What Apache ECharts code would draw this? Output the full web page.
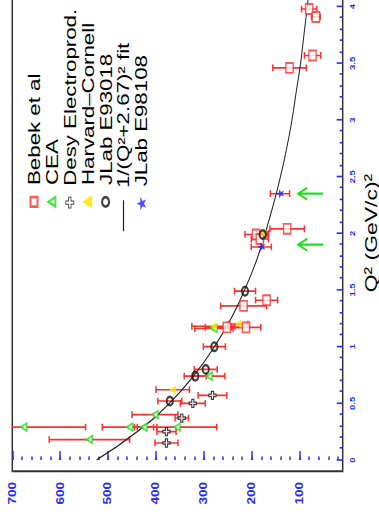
<!DOCTYPE html>
<html>
<head>
<meta charset="utf-8">
<script src="https://cdn.jsdelivr.net/npm/echarts@6/dist/echarts.min.js"></script>
<style>
  html, body { margin: 0; padding: 0; width: 379px; height: 516px; overflow: hidden; background: #fff; }
  /* The plot is laid out landscape and turned a quarter turn counter-clockwise. */
  #chart {
    position: absolute; left: 0; top: 0;
    width: 440px; height: 379px;
    transform-origin: 0 0;
    transform: translate(0, 516px) rotate(-90deg) scale(1.35, 1);
  }
</style>
</head>
<body>
<div id="chart"></div>
<script>
// Each row: [Q^2 (GeV/c)^2, value, error]
const bebek = [
  [1.17, 252, 45], [1.17, 212, 31], [1.36, 217, 48], [1.41, 169, 23],
  [1.99, 191, 23], [1.95, 183, 18], [2.04, 126, 36],
  [3.46, 121, 35], [3.57, 73, 17], [3.98, 80, 16], [3.91, 66, 9]
];
const cea = [
  [0.29, 676, 129], [0.18, 539, 84], [0.29, 455, 57], [0.29, 425, 20],
  [0.29, 356, 83], [0.40, 402, 48], [0.74, 289, 33], [1.16, 279, 40]
];
const desy = [
  [0.15, 378, 24], [0.25, 378, 20], [0.37, 346, 14], [0.50, 323, 26], [0.57, 282, 30]
];
const harvard = [
  [0.62, 365, 35], [1.18, 280, 45], [1.20, 228, 20], [2.00, 177, 12]
];
const jlab93018 = [
  [0.52, 371, 25], [0.74, 318, 23], [0.80, 296, 24], [1.00, 278, 23], [1.49, 214, 22], [1.99, 177, 12]
];
const jlab98108 = [
  [1.88, 180, 21], [2.35, 141, 20]
];
// Limit arrows: [Q^2, arrow tip value, tail value]
const limits = [
  [1.90, 103, 51], [2.35, 103, 51]
];
// Fit curve read along its length
const fitQ2  = [0, 0.25, 0.5, 0.75, 1, 1.25, 1.5, 1.75, 2, 2.25, 2.5, 2.75, 3, 3.25, 3.5, 3.75, 4, 4.25];
const fitVal = [524, 439, 372, 320, 278, 243, 215, 191, 172, 155, 140, 127, 116, 107, 98, 91, 84, 78];

const q2TickLabels = ['0', '0.5', '1', '1.5', '2', '2.5', '3', '3.5', '4'];
const valueTickLabels = [100, 200, 300, 400, 500, 600, 700];

const names = {
  bebek: 'Bebek et al',
  cea: 'CEA',
  desy: 'Desy Electroprod.',
  harvard: 'Harvard\u2013Cornell',
  jlab93: 'JLab E93018',
  fit: '1/(Q\u00b2+2.67)\u00b2 fit',
  jlab98: 'JLab E98108'
};

const RED = '#ff2f2f', GREEN = '#22dd22', YELLOW = '#ffe600', BLUE = '#2020ff', BLACK = '#111';
const LABEL_BLUE = '#2a2aff';
const FONT = '"Liberation Sans", Arial, sans-serif';

const STAR = 'path://M50,0 L61,35 L98,35 L68,57 L79,91 L50,70 L21,91 L32,57 L2,35 L39,35 Z';
const CROSS = 'path://M35,0 H65 V35 H100 V65 H65 V100 H35 V65 H0 V35 H35 Z';

// plot frame geometry (pre-rotation pixels)
const gTop = 12.3, gRight = 20.8;
const gridMain = { left: 33.1, right: gRight, top: gTop, bottom: 36.3, show: true, borderColor: '#333', borderWidth: 1.5, backgroundColor: 'transparent' };

const pts = arr => arr.map(d => [d[0], d[1]]);
const allErrors = [].concat(bebek, cea, desy, harvard, jlab93018, jlab98108);

function errorBar(params, api) {
  const x = api.value(0), y = api.value(1), e = api.value(2);
  const hi = api.coord([x, y + e]);
  const lo = api.coord([x, y - e]);
  const c = 2.5;
  const capStyle = { stroke: RED, lineWidth: 1.5 };
  return {
    type: 'group',
    children: [
      { type: 'line', shape: { x1: hi[0], y1: hi[1], x2: lo[0], y2: lo[1] }, style: { stroke: RED, lineWidth: 1.2 } },
      { type: 'line', shape: { x1: hi[0] - c, y1: hi[1], x2: hi[0] + c, y2: hi[1] }, style: capStyle },
      { type: 'line', shape: { x1: lo[0] - c, y1: lo[1], x2: lo[0] + c, y2: lo[1] }, style: capStyle }
    ]
  };
}

function limitArrow(params, api) {
  const x = api.value(0);
  const tip = api.coord([x, api.value(1)]);
  const tail = api.coord([x, api.value(2)]);
  const s = { stroke: GREEN, lineWidth: 1.6, fill: null };
  return {
    type: 'group',
    children: [
      { type: 'line', shape: { x1: tip[0], y1: tip[1], x2: tail[0], y2: tail[1] }, style: s },
      { type: 'polyline', shape: { points: [[tip[0] - 4.4, tip[1] + 9], [tip[0], tip[1]], [tip[0] + 4.4, tip[1] + 9]] }, style: s }
    ]
  };
}

function legendAt(name, top, opts) {
  return Object.assign({
    data: [name], orient: 'vertical', left: 223.2, top: top,
    itemWidth: 7, itemHeight: 7, itemGap: 0, selectedMode: false,
    textStyle: { fontSize: 16.5, fontFamily: FONT, color: '#000', padding: [0, 0, 0, 4] }
  }, opts || {});
}
const legendCenters = [29, 46.9, 64.8, 82.7, 100.6, 118.5, 136.4];
const lt = i => legendCenters[i] - 8.5;

const chart = echarts.init(document.getElementById('chart'), null, { renderer: 'svg' });
chart.setOption({
  animation: false,
  backgroundColor: '#fff',
  grid: [
    gridMain,
    { left: 41.48, right: gRight, top: gTop, bottom: 36.3 },
    { left: 33.1, right: gRight, top: gTop, bottom: 41.1 },
    { left: 33.1, right: gRight, top: gTop, bottom: 79.4 }
  ],
  xAxis: [
    { gridIndex: 0, type: 'value', min: -0.1, max: 4.5, axisLine: { show: false }, axisTick: { show: false }, axisLabel: { show: false }, splitLine: { show: false } },
    {
      gridIndex: 1, type: 'value', min: 0, max: 4.5, interval: 0.5,
      axisLine: { show: false },
      axisTick: { show: true, inside: true, length: 6, lineStyle: { color: LABEL_BLUE, width: 1.2 } },
      minorTick: { show: true, splitNumber: 5, length: 3, lineStyle: { color: LABEL_BLUE, width: 1.2 } },
      splitLine: { show: false },
      axisLabel: {
        color: LABEL_BLUE, fontSize: 7, fontWeight: 'bold', fontFamily: FONT, margin: 6.5,
        formatter: v => { const s = String(+v.toFixed(2)); return q2TickLabels.indexOf(s) >= 0 ? s : ''; }
      }
    },
    { gridIndex: 2, type: 'value', min: -0.1, max: 4.5, show: false },
    { gridIndex: 3, type: 'value', min: -0.1, max: 4.5, show: false }
  ],
  yAxis: [
    { gridIndex: 0, type: 'value', min: 10, max: 700, axisLine: { show: false }, axisTick: { show: false }, axisLabel: { show: false }, splitLine: { show: false } },
    { gridIndex: 1, type: 'value', min: 10, max: 700, show: false },
    {
      gridIndex: 2, type: 'value', min: 20, max: 700, interval: 20,
      axisLine: { show: false },
      axisTick: { show: true, inside: true, length: 2.5, lineStyle: { color: LABEL_BLUE, width: 1.5 } },
      splitLine: { show: false },
      axisLabel: {
        color: LABEL_BLUE, fontSize: 10, fontWeight: 'bold', fontFamily: FONT, margin: 8,
        formatter: v => valueTickLabels.indexOf(Math.round(v)) >= 0 ? String(Math.round(v)) : ''
      }
    },
    {
      gridIndex: 3, type: 'value', min: 100, max: 700, interval: 100,
      axisLine: { show: false },
      axisTick: { show: true, inside: true, length: 6.7, lineStyle: { color: LABEL_BLUE, width: 1.5 } },
      axisLabel: { show: false }, splitLine: { show: false }
    }
  ],
  legend: [
    legendAt(names.bebek, lt(0)),
    legendAt(names.cea, lt(1)),
    legendAt(names.desy, lt(2), {
      left: 222.7, itemWidth: 8, itemHeight: 8, itemStyle: { borderWidth: 0.8 },
      textStyle: { fontSize: 16.5, fontFamily: FONT, color: '#000', padding: [0, 0, 0, 3.5] }
    }),
    legendAt(names.harvard, lt(3)),
    legendAt(names.jlab93, lt(4)),
    legendAt(names.fit, lt(5), { left: 205.9, itemWidth: 23, itemHeight: 1.2, icon: 'rect', itemStyle: { color: '#222', borderWidth: 0 } }),
    legendAt(names.jlab98, lt(6), {
      left: 221.4, itemWidth: 10, itemHeight: 10,
      textStyle: { fontSize: 16.5, fontFamily: FONT, color: '#000', padding: [0, 0, 0, 2.8] }
    })
  ],
  graphic: [{
    type: 'text', x: 209.6, y: 371,
    style: {
      text: 'Q\u00b2 (GeV/c)\u00b2', font: '17px ' + FONT, fill: '#000',
      align: 'center', verticalAlign: 'middle', textAlign: 'center', textVerticalAlign: 'middle'
    }
  }],
  series: [
    { type: 'custom', name: 'errors', xAxisIndex: 0, yAxisIndex: 0, data: allErrors, renderItem: errorBar, clip: true, z: 1, silent: true },
    { type: 'custom', name: 'limits', xAxisIndex: 0, yAxisIndex: 0, data: limits, renderItem: limitArrow, clip: true, z: 2, silent: true },
    { type: 'line', name: names.fit, xAxisIndex: 0, yAxisIndex: 0, data: fitQ2.map((q, i) => [q, fitVal[i]]), smooth: true, symbol: 'none', lineStyle: { color: '#222', width: 1 }, itemStyle: { color: '#222' }, clip: true, z: 2, silent: true },
    { type: 'scatter', name: names.bebek, data: pts(bebek), symbol: 'rect', symbolSize: [7.4, 7.3], itemStyle: { color: '#fff', borderColor: RED, borderWidth: 1.4 }, z: 3, silent: true },
    { type: 'scatter', name: names.cea, data: pts(cea), symbol: 'triangle', symbolSize: [5.5, 6], itemStyle: { color: '#fff', borderColor: GREEN, borderWidth: 1.5 }, z: 3, silent: true },
    { type: 'scatter', name: names.desy, data: pts(desy), symbol: CROSS, symbolSize: [6, 7.2], itemStyle: { color: '#fff', borderColor: BLACK, borderWidth: 1 }, z: 3, silent: true },
    { type: 'scatter', name: names.harvard, data: pts(harvard), symbol: 'triangle', symbolSize: [5.5, 6], itemStyle: { color: YELLOW, borderColor: YELLOW, borderWidth: 0.5 }, z: 3, silent: true },
    { type: 'scatter', name: names.jlab93, data: pts(jlab93018), symbol: 'circle', symbolSize: 6.4, itemStyle: { color: 'rgba(255,255,255,0)', borderColor: BLACK, borderWidth: 1.8 }, z: 3, silent: true },
    { type: 'scatter', name: names.jlab98, data: pts(jlab98108), symbol: STAR, symbolSize: [7, 8.5], itemStyle: { color: BLUE }, z: 3, silent: true }
  ]
});
</script>
</body>
</html>
